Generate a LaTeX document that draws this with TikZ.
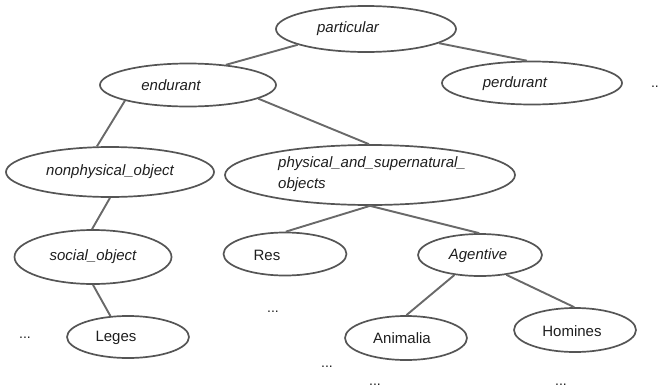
\documentclass[tikz,border=0pt]{standalone}
\usepackage{fontspec}
\setmainfont{Liberation Sans}
\usetikzlibrary{shapes.geometric}
\definecolor{edgegray}{RGB}{105,105,105}
\definecolor{rimgray}{RGB}{85,85,85}
\definecolor{ink}{RGB}{30,30,30}
\begin{document}
\begin{tikzpicture}[x=1pt,y=-1pt,
  oval/.style={ellipse, draw=rimgray, line width=1.7pt, inner sep=0pt},
  lbl/.style={text=ink, inner sep=0pt, font=\fontsize{15}{18}\selectfont},
  ilbl/.style={lbl, font=\fontsize{15}{18}\selectfont\itshape},
  link/.style={draw=edgegray, line width=1.9pt},
  dots/.style={text=ink, inner sep=0pt, font=\fontsize{14}{16}\selectfont}]
\useasboundingbox (0,0) rectangle (659,391);
% ellipses
\node[oval, minimum width=180pt, minimum height=46pt] (part) at (366,29) {};
\node[oval, minimum width=176pt, minimum height=43pt] (endu) at (188,85) {};
\node[oval, minimum width=180pt, minimum height=43pt] (perd) at (532,83) {};
\node[oval, minimum width=208pt, minimum height=50pt] (nonph) at (110,172) {};
\node[oval, minimum width=290pt, minimum height=60pt] (phys) at (370,175) {};
\node[oval, minimum width=157pt, minimum height=54pt] (soc) at (93,257) {};
\node[oval, minimum width=123pt, minimum height=43pt] (res) at (285,254) {};
\node[oval, minimum width=124pt, minimum height=42pt] (agent) at (480,255) {};
\node[oval, minimum width=122pt, minimum height=42pt] (leges) at (128,337) {};
\node[oval, minimum width=122pt, minimum height=44pt] (anim) at (406,338) {};
\node[oval, minimum width=122pt, minimum height=44pt] (hom) at (575,330) {};
% labels
\node[ilbl] (partT) at (348,29) {particular};
\node[ilbl] (enduT) at (171,85) {endurant};
\node[ilbl] (perdT) at (515,84) {perdurant};
\node[ilbl] (nonphT) at (110,172) {nonphysical\_object};
\node[ilbl, anchor=west, align=left, font=\fontsize{15}{21}\selectfont\itshape] (physT) at (278,174) {physical\_and\_supernatural\_\\objects};
\node[ilbl] (socT) at (93,257) {social\_object};
\node[lbl] (resT) at (267,255) {Res};
\node[ilbl] (agentT) at (478,256) {Agentive};
\node[lbl] (legesT) at (116,338) {Leges};
\node[lbl] (animT) at (402,338) {Animalia};
\node[lbl] (homT) at (572,331) {Homines};
% dots
\node[dots] (d1) at (25,338) {...};
\node[dots] (d2) at (273,312) {...};
\node[dots] (d3) at (327,367) {...};
\node[dots] (d4) at (375,385) {...};
\node[dots] (d5) at (561,385) {...};
\node[dots, anchor=east] (d6) at (659,87) {..};
% connectors
\draw[link] (part.193.4) -- (endu.28);
\draw[link] (part.-11.5) -- (perd.103);
\draw[link] (endu.194.3) -- (nonph.117);
\draw[link] (endu.-11.7) -- (phys.92);
\draw[link] (phys.-90) -- (res.88);
\draw[link] (phys.-90) -- (agent.92);
\draw[link] (nonph.-90) -- (soc.92);
\draw[link] (soc.-90) -- (leges.130);
\draw[link] (agent.-142.5) -- (anim.89);
\draw[link] (agent.-37.5) -- (hom.92);
\end{tikzpicture}
\end{document}
